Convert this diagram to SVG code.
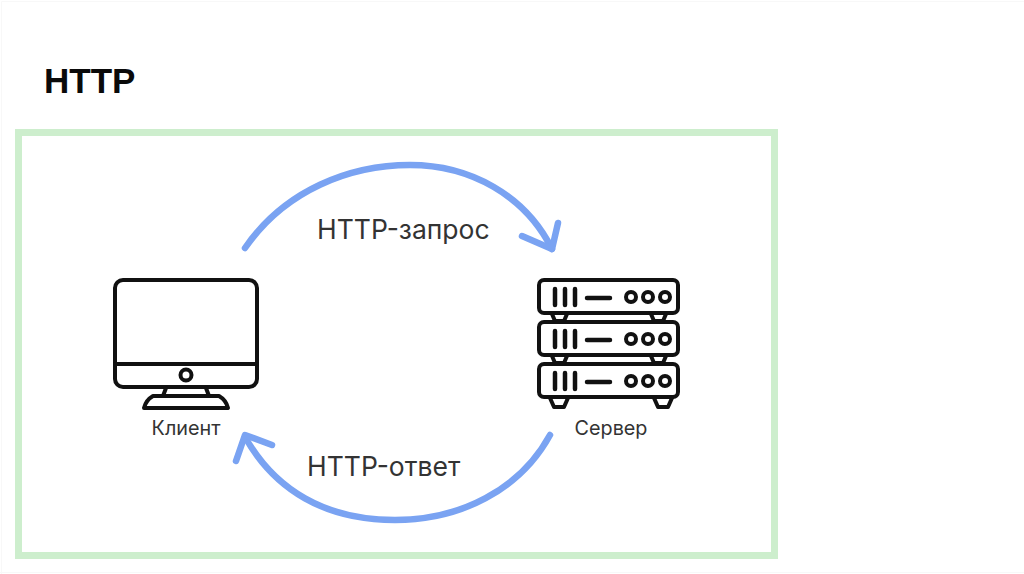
<svg xmlns="http://www.w3.org/2000/svg" width="1024" height="574" viewBox="0 0 1024 574">
<style>
.ic{fill:none;stroke:#111;stroke-width:4;stroke-linejoin:round;stroke-linecap:round}
.bar{stroke-width:4.500}
.ar{fill:none;stroke:#7aa3f2;stroke-width:6.500;stroke-linecap:round;stroke-linejoin:round}
text{font-family:"Inter","Noto Sans","Liberation Sans",sans-serif;fill:#222}
.lb{font-size:26.500px;fill:#333}
.sm{font-size:19.800px;fill:#333}
</style>
<defs>
<g id="unit">
<rect class="ic" x="539" y="280" width="139" height="33" rx="5"/>
<path class="ic bar" d="M555 289V305M565 289V305M575 289V305M587 298H610"/>
<circle class="ic" cx="631" cy="297" r="5"/>
<circle class="ic" cx="648" cy="297" r="5"/>
<circle class="ic" cx="665" cy="297" r="5"/>
</g>
</defs>
<rect width="1024" height="574" fill="#fff"/>
<path d="M1.500 574V1.500H1024" fill="none" stroke="#f8f8f8"/>
<path d="M0 572.500H1024" fill="none" stroke="#f8f8f8"/>
<text x="44" y="93" font-size="35" font-weight="700" style="font-family:'Liberation Sans',Arial,sans-serif;fill:#0a0a0a">HTTP</text>
<rect x="18.500" y="132.500" width="756" height="423" fill="#fff" stroke="#cdeecd" stroke-width="7"/>
<g id="connectors">
<path class="ar" d="M245 248C285 190 350 165 410 165C470 165 525 195 552 249"/>
<path class="ar" d="M522 236L552 249L558 223"/>
<path class="ar" d="M550 435C520 490 460 520 395 520C325 520 275 490 245 437"/>
<path class="ar" d="M236 461L245 435L272 445"/>
</g>
<g id="label-request"><text class="lb" x="317" y="239">HTTP-запрос</text></g>
<g id="label-response"><text class="lb" x="307" y="476">HTTP-ответ</text></g>
<g id="client">
<rect class="ic" x="115" y="280" width="142" height="107" rx="8"/>
<path class="ic" d="M115 364H257"/>
<circle class="ic" cx="186" cy="375" r="5.500"/>
<path class="ic" d="M166 388L163 396M206 388L209 396"/>
<path class="ic" d="M153 396H219Q226 400 228 408H144Q146 400 153 396Z"/>
<text class="sm" x="186" y="435" text-anchor="middle">Клиент</text>
</g>
<g id="server">
<use href="#unit"/>
<use href="#unit" y="42"/>
<use href="#unit" y="84"/>
<path class="ic" d="M552 314L555 321H564L567 314M651 314L654 321H663L666 314M552 356L555 363H564L567 356M651 356L654 363H663L666 356M550 398L554 407H564L568 398M654 398L658 407H668L672 398"/>
<text class="sm" x="611" y="435" text-anchor="middle">Сервер</text>
</g>
</svg>
